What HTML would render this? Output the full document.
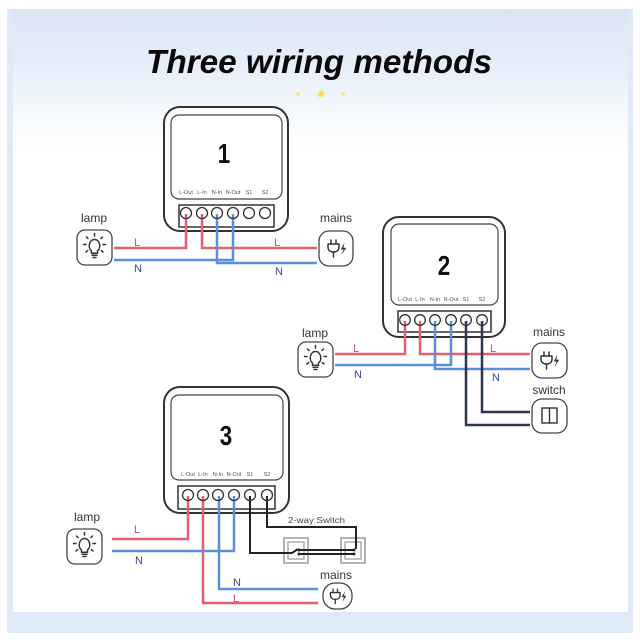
<!DOCTYPE html>
<html><head><meta charset="utf-8"><style>
html,body{margin:0;padding:0;background:#fff;}
svg{display:block;}
text{font-family:"Liberation Sans",sans-serif;}
</style></head><body>
<svg width="640" height="640" viewBox="0 0 640 640" xmlns="http://www.w3.org/2000/svg">
<defs>
<linearGradient id="bg" x1="0" y1="0" x2="0" y2="1">
<stop offset="0" stop-color="#dae5f4"/>
<stop offset="0.1" stop-color="#e6eef9"/>
<stop offset="0.18" stop-color="#f7fafe"/>
<stop offset="0.24" stop-color="#ffffff"/>
<stop offset="1" stop-color="#ffffff"/>
</linearGradient>
<radialGradient id="glow"><stop offset="0" stop-color="#f4cf1c"/><stop offset="0.5" stop-color="#f6dc5a" stop-opacity="0.8"/><stop offset="1" stop-color="#fff3b0" stop-opacity="0"/></radialGradient>
<g id="lamp">
<rect x="0" y="0" width="35" height="35" rx="8" fill="#fff" stroke="#444" stroke-width="1.3"/>
<g fill="none" stroke="#333" stroke-width="1.5" stroke-linecap="round">
<path d="M14.5,21 C10.5,18 12,9.5 17.5,9.5 C23,9.5 24.5,18 20.5,21 L20.5,23.3 L14.5,23.3 Z"/>
<path d="M15,25.3 H20 M16,27.5 H19"/>
<path d="M17.5,3.5 V6 M9.5,7 L11,8.5 M25.5,7 L24,8.5 M6.5,14.5 H9 M26,14.5 H28.5 M9,22 L10.7,20.6 M26,22 L24.3,20.6"/>
</g>
</g>
<g id="mains">
<g fill="none" stroke="#333" stroke-width="1.5" stroke-linecap="round" stroke-linejoin="round">
<path d="M12,9 V13 M17,9 V13"/>
<path d="M9,13 H20 V16 C20,19.5 17.5,21 14.5,21 C11.5,21 9,19.5 9,16 Z"/>
<path d="M14.5,21 V26"/>
</g>
<path d="M25.5,11.5 L21.8,18.5 H24.6 L22.2,24.5 L27.2,16.8 H24.4 Z" fill="#333"/>
</g>
</defs>

<!-- background panel -->
<rect x="7" y="9" width="626" height="624" fill="#dfe9f7"/>
<rect x="13" y="9" width="615" height="603" fill="url(#bg)"/>

<!-- title -->
<text x="146" y="73" font-size="33" font-weight="bold" font-style="italic" fill="#0a0a0a" textLength="346" lengthAdjust="spacingAndGlyphs">Three wiring methods</text>
<circle cx="321" cy="94" r="5" fill="url(#glow)"/>
<circle cx="298" cy="94" r="3" fill="url(#glow)" opacity="0.7"/>
<circle cx="343" cy="94" r="3" fill="url(#glow)" opacity="0.7"/>

<!-- ============ MODULE 1 ============ -->
<rect x="164" y="107" width="124" height="124" rx="16" fill="#fff" stroke="#333" stroke-width="2"/>
<rect x="171" y="115" width="111" height="84" rx="8" fill="#fff" stroke="#444" stroke-width="1.2"/>
<text transform="translate(224,163) scale(0.8,1)" font-size="28" font-weight="bold" text-anchor="middle" fill="#111">1</text>
<g font-size="5.5" fill="#555" text-anchor="middle">
<text x="186" y="194">L-Out</text><text x="202" y="194">L-In</text><text x="217" y="194">N-In</text><text x="233" y="194">N-Out</text><text x="249" y="194">S1</text><text x="265" y="194">S2</text>
</g>
<rect x="179" y="205" width="95" height="22" fill="#fff" stroke="#333" stroke-width="1.5"/>
<g fill="none" stroke-width="2.5">
<path d="M114,248 H186 V214 M202,214 V248 H317" stroke="#e0616f"/>
<path d="M114,260 H233 V214 M217,214 V263 H317" stroke="#5b8fdc"/>
</g>
<g fill="none" stroke="#333" stroke-width="1.3">
<circle cx="186" cy="213" r="5.5"/><circle cx="202" cy="213" r="5.5"/><circle cx="217" cy="213" r="5.5"/><circle cx="233" cy="213" r="5.5"/><circle cx="249" cy="213" r="5.5"/><circle cx="265" cy="213" r="5.5"/>
</g>
<g font-size="11">
<text x="134" y="246" fill="#d84b5a">L</text><text x="274" y="246" fill="#d84b5a">L</text>
<text x="134" y="272" fill="#34469e">N</text><text x="275" y="275" fill="#34469e">N</text>
</g>
<text x="94" y="222" font-size="12" fill="#333" text-anchor="middle">lamp</text>
<use href="#lamp" x="77" y="230"/>
<text x="336" y="222" font-size="12" fill="#333" text-anchor="middle">mains</text>
<rect x="319" y="231" width="34" height="35" rx="10" fill="#fff" stroke="#444" stroke-width="1.3"/>
<use href="#mains" x="319" y="231"/>

<!-- ============ MODULE 2 ============ -->
<rect x="383" y="217" width="122" height="120" rx="16" fill="#fff" stroke="#333" stroke-width="2"/>
<rect x="391" y="224" width="107" height="81" rx="8" fill="#fff" stroke="#444" stroke-width="1.2"/>
<text transform="translate(444,275) scale(0.8,1)" font-size="28" font-weight="bold" text-anchor="middle" fill="#111">2</text>
<g font-size="5.5" fill="#555" text-anchor="middle">
<text x="405" y="301">L-Out</text><text x="420" y="301">L-In</text><text x="435" y="301">N-In</text><text x="451" y="301">N-Out</text><text x="466" y="301">S1</text><text x="482" y="301">S2</text>
</g>
<rect x="398" y="311" width="93" height="21" fill="#fff" stroke="#333" stroke-width="1.5"/>
<g fill="none" stroke-width="2.5">
<path d="M335,354 H405 V321 M420,321 V354 H530" stroke="#e0616f"/>
<path d="M335,365 H451 V321 M435,321 V369 H530" stroke="#5b8fdc"/>
<path d="M466,321 V425 H530 M482,321 V412 H530" stroke="#2c3652"/>
</g>
<g fill="none" stroke="#333" stroke-width="1.3">
<circle cx="405" cy="320" r="5.3"/><circle cx="420" cy="320" r="5.3"/><circle cx="435" cy="320" r="5.3"/><circle cx="451" cy="320" r="5.3"/><circle cx="466" cy="320" r="5.3"/><circle cx="482" cy="320" r="5.3"/>
</g>
<g font-size="11">
<text x="353" y="352" fill="#d84b5a">L</text><text x="490" y="352" fill="#d84b5a">L</text>
<text x="354" y="378" fill="#34469e">N</text><text x="492" y="381" fill="#34469e">N</text>
</g>
<text x="315" y="337" font-size="12" fill="#333" text-anchor="middle">lamp</text>
<use href="#lamp" x="298" y="342"/>
<text x="549" y="336" font-size="12" fill="#333" text-anchor="middle">mains</text>
<rect x="532" y="343" width="35" height="35" rx="10" fill="#fff" stroke="#444" stroke-width="1.3"/>
<use href="#mains" x="532" y="343"/>
<text x="549" y="394" font-size="12" fill="#333" text-anchor="middle">switch</text>
<rect x="532" y="399" width="35" height="34" rx="10" fill="#fff" stroke="#444" stroke-width="1.3"/>
<rect x="542" y="408" width="15" height="15" fill="none" stroke="#333" stroke-width="1.4"/>
<line x1="549.5" y1="408" x2="549.5" y2="423" stroke="#333" stroke-width="1.4"/>

<!-- ============ MODULE 3 ============ -->
<rect x="164" y="387" width="125" height="126" rx="16" fill="#fff" stroke="#333" stroke-width="2"/>
<rect x="171" y="395" width="112" height="85" rx="8" fill="#fff" stroke="#444" stroke-width="1.2"/>
<text transform="translate(226,445) scale(0.8,1)" font-size="28" font-weight="bold" text-anchor="middle" fill="#111">3</text>
<g font-size="5.5" fill="#555" text-anchor="middle">
<text x="188" y="476">L-Out</text><text x="203" y="476">L-In</text><text x="218" y="476">N-In</text><text x="234" y="476">N-Out</text><text x="250" y="476">S1</text><text x="267" y="476">S2</text>
</g>
<rect x="178" y="486" width="97" height="23" fill="#fff" stroke="#333" stroke-width="1.5"/>
<!-- switches -->
<rect x="284" y="538" width="24" height="25" fill="#fff" stroke="#9a9a9a" stroke-width="1.5"/>
<rect x="288" y="542" width="16" height="17" fill="#fff" stroke="#9a9a9a" stroke-width="1.2"/>
<rect x="341" y="538" width="24" height="25" fill="#fff" stroke="#9a9a9a" stroke-width="1.5"/>
<rect x="345" y="542" width="16" height="17" fill="#fff" stroke="#9a9a9a" stroke-width="1.2"/>
<g fill="none" stroke-width="2.5">
<path d="M112,539 H188 V496 M203,496 V603 H318" stroke="#e0616f"/>
<path d="M112,551 H234 V496 M219,496 V589 H318" stroke="#5b8fdc"/>
</g>
<g fill="none" stroke="#222" stroke-width="2">
<path d="M250,496 V553 H292 L298,549"/>
<path d="M267,496 V527 H356 V549"/>
<path d="M299,550 H354 M299,554 H354"/>
</g>
<g fill="none" stroke="#333" stroke-width="1.3">
<circle cx="188" cy="495" r="5.5"/><circle cx="203" cy="495" r="5.5"/><circle cx="218" cy="495" r="5.5"/><circle cx="234" cy="495" r="5.5"/><circle cx="250" cy="495" r="5.5"/><circle cx="267" cy="495" r="5.5"/>
</g>
<g fill="#222"><circle cx="299" cy="550" r="1.5"/><circle cx="299" cy="554" r="1.5"/><circle cx="354" cy="550" r="1.5"/><circle cx="354" cy="554" r="1.5"/></g>
<text x="288" y="523" font-size="8.5" fill="#444" textLength="57" lengthAdjust="spacingAndGlyphs">2-way Switch</text>
<g font-size="11">
<text x="134" y="533" fill="#d84b5a">L</text><text x="233" y="602" fill="#d84b5a">L</text>
<text x="135" y="564" fill="#34469e">N</text><text x="233" y="586" fill="#34469e">N</text>
</g>
<text x="87" y="521" font-size="12" fill="#333" text-anchor="middle">lamp</text>
<use href="#lamp" x="67" y="529"/>
<text x="336" y="579" font-size="12" fill="#333" text-anchor="middle">mains</text>
<rect x="323" y="583" width="29" height="26" rx="12" fill="#fff" stroke="#444" stroke-width="1.3"/>
<use href="#mains" transform="translate(322.5,581.5) scale(0.88,0.85)"/>
</svg>
</body></html>
